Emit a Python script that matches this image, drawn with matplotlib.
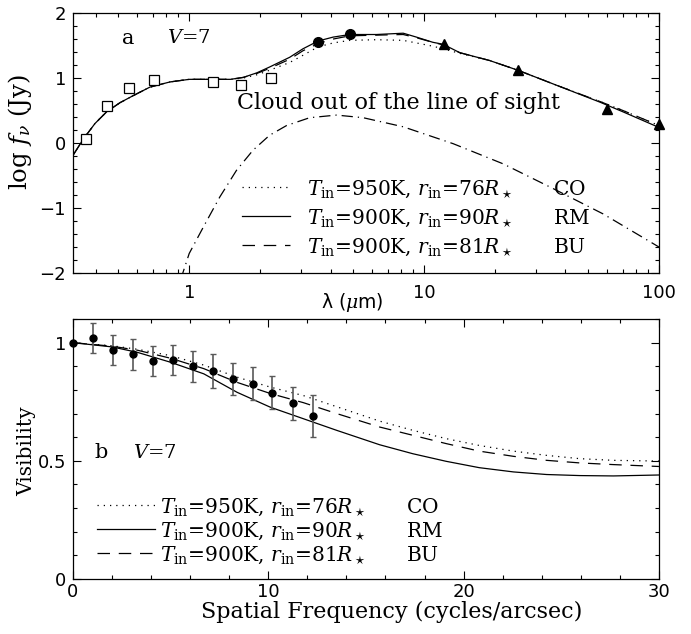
import matplotlib
matplotlib.use('Agg')
import matplotlib.pyplot as plt
from matplotlib.ticker import LogLocator, FixedLocator, MultipleLocator, NullFormatter, FuncFormatter

plt.rcParams['mathtext.fontset'] = 'dejavuserif'
plt.rcParams['font.family'] = 'DejaVu Serif'

# photometry (log flux in Jy)
wl_opt = [0.363, 0.445, 0.555, 0.706, 1.258, 1.66, 2.22]
f_opt = [0.06, 0.575, 0.85, 0.965, 0.945, 0.89, 1.0]
wl_ir = [3.54, 4.83]
f_ir = [1.55, 1.68]
wl_iras = [12.1, 25.2, 60.1, 100.0]
f_iras = [1.52, 1.13, 0.52, 0.30]

# model SEDs
wl_mod = [0.32, 0.354, 0.397, 0.445, 0.507, 0.578, 0.68, 0.828, 1.0, 1.31, 1.5, 1.7,
          1.94, 2.2, 2.68, 3.05, 3.54, 4.1, 4.83, 6.27, 8.15, 9.28, 10.9, 12.05, 14.2,
          19.0, 25.1, 36.6, 56.0, 70.3, 100.0]
sed_rm = [-0.19, 0.06, 0.30, 0.48, 0.62, 0.73, 0.86, 0.94, 0.98, 0.98, 0.98, 1.01,
          1.08, 1.17, 1.32, 1.45, 1.57, 1.63, 1.67, 1.67, 1.69, 1.63, 1.55, 1.52, 1.39,
          1.27, 1.12, 0.89, 0.63, 0.48, 0.24]
sed_co = [-0.19, 0.06, 0.30, 0.48, 0.62, 0.73, 0.86, 0.94, 0.98, 0.98, 0.98, 1.0,
          1.05, 1.12, 1.24, 1.35, 1.48, 1.54, 1.58, 1.59, 1.58, 1.54, 1.49, 1.45, 1.38,
          1.27, 1.12, 0.89, 0.64, 0.50, 0.27]
sed_bu = [-0.19, 0.06, 0.30, 0.48, 0.62, 0.73, 0.86, 0.94, 0.98, 0.98, 0.98, 1.01,
          1.07, 1.15, 1.29, 1.42, 1.53, 1.60, 1.65, 1.66, 1.67, 1.62, 1.55, 1.51, 1.39,
          1.27, 1.12, 0.89, 0.64, 0.50, 0.27]

# cloud emission
wl_cloud = [0.92, 1.0, 1.15, 1.35, 1.59, 1.87, 2.2, 2.6, 3.26, 4.24, 5.5, 8.15, 13.3,
            21.7, 35.4, 57.8, 100.0]
f_cloud = [-2.1, -1.70, -1.29, -0.83, -0.42, -0.11, 0.12, 0.27, 0.39, 0.43, 0.39, 0.25,
           -0.01, -0.32, -0.70, -1.09, -1.60]

# visibilities
freq = [0, 1.0, 2.03, 3.06, 4.08, 5.1, 6.13, 7.15, 8.18, 9.2, 10.2, 11.25, 12.27]
vis = [1.0, 1.02, 0.97, 0.95, 0.923, 0.927, 0.90, 0.88, 0.847, 0.827, 0.789, 0.744, 0.69]
vis_err = [0, 0.064, 0.064, 0.064, 0.063, 0.065, 0.065, 0.07, 0.069, 0.069, 0.069, 0.07, 0.09]

freq_mod = [0, 2.0, 3.3, 5.0, 6.7, 8.4, 10.1, 11.8, 13.5, 15.7, 17.4, 19.1, 20.8, 22.55,
            24.25, 25.96, 27.67, 30.0]
vis_rm = [1.0, 0.982, 0.959, 0.917, 0.868, 0.79, 0.727, 0.678, 0.629, 0.568, 0.53, 0.498,
          0.471, 0.453, 0.442, 0.4375, 0.436, 0.44]
vis_bu = [1.0, 0.985, 0.968, 0.934, 0.89, 0.832, 0.785, 0.746, 0.70, 0.643, 0.608, 0.573,
          0.541, 0.519, 0.502, 0.491, 0.484, 0.476]
vis_co = [1.0, 0.987, 0.972, 0.945, 0.905, 0.854, 0.812, 0.776, 0.729, 0.668, 0.629, 0.594,
          0.565, 0.541, 0.523, 0.509, 0.502, 0.499]

models = [('950K', '76', 'CO'), ('900K', '90', 'RM'), ('900K', '81', 'BU')]

def model_labels(gap):
    return [r'$T_{\rm in}$=%s, $r_{\rm in}$=%s$R_\star$' % (t, r) + ' ' * gap + name
            for t, r, name in models]

lw = 0.9
dot = (0, (1, 4))
dash = (0, (10, 7))

fig = plt.figure(figsize=(6.91, 6.34), dpi=100)
ax1 = fig.add_axes([0.1056, 0.5694, 0.848, 0.410])
ax2 = fig.add_axes([0.1056, 0.0868, 0.848, 0.410])

def style(ax):
    ax.tick_params(which='both', direction='in', top=True, right=True, width=0.8,
                   labelsize=13, pad=5)
    ax.tick_params(which='major', length=6)
    ax.tick_params(which='minor', length=3)
    for lab in ax.get_xticklabels() + ax.get_yticklabels():
        lab.set_family('DejaVu Sans')
    for s in ax.spines.values():
        s.set_linewidth(0.9)

# (a) spectral energy distribution
l1, = ax1.plot(wl_mod, sed_co, color='k', lw=lw, ls=dot)
l2, = ax1.plot(wl_mod, sed_rm, color='k', lw=lw)
l3, = ax1.plot(wl_mod, sed_bu, color='k', lw=lw, ls=dash)
ax1.plot(wl_cloud, f_cloud, color='k', lw=lw, ls=(0, (9, 4, 1, 4)))
ax1.plot(wl_opt, f_opt, 's', mfc='white', mec='k', mew=0.9, ms=6.5)
ax1.plot(wl_ir, f_ir, 'o', color='k', ms=7)
ax1.plot(wl_iras, f_iras, '^', color='k', ms=7, clip_on=False, zorder=5)

ax1.set_xscale('log')
ax1.set_xlim(0.32, 100)
ax1.set_ylim(-2, 2)
ax1.xaxis.set_major_locator(FixedLocator([1, 10, 100]))
ax1.xaxis.set_major_formatter(FuncFormatter(lambda v, p: '%g' % v))
ax1.xaxis.set_minor_locator(LogLocator(subs=range(2, 10)))
ax1.xaxis.set_minor_formatter(NullFormatter())
ax1.yaxis.set_major_locator(MultipleLocator(1))
ax1.yaxis.set_minor_locator(MultipleLocator(0.2))
style(ax1)
ax1.tick_params(axis='x', pad=8)

ax1.set_xlabel(r'λ ($\mu$m)', family='DejaVu Sans', fontsize=13.5)
ax1.xaxis.set_label_coords(0.476, -0.068)
ax1.set_ylabel(r'log $f_\nu$ (Jy)', fontsize=17.5)
ax1.yaxis.set_label_coords(-0.066, 0.54)

ax1.text(0.083, 0.904, 'a', transform=ax1.transAxes, fontsize=15, va='center')
ax1.text(0.160, 0.904, r'$V$=7', transform=ax1.transAxes, fontsize=14, va='center')
ax1.text(0.28, 0.654, 'Cloud out of the line of sight', transform=ax1.transAxes,
         fontsize=16, va='center')

ax1.legend([l1, l2, l3], model_labels(6), frameon=False, fontsize=14.5, loc='center left',
           bbox_to_anchor=(0.288, 0.2115), handlelength=2.4, handletextpad=0.85,
           labelspacing=0.35, borderpad=0, borderaxespad=0)

# (b) visibility
m1, = ax2.plot(freq_mod, vis_co, color='k', lw=lw, ls=dot)
m2, = ax2.plot(freq_mod, vis_rm, color='k', lw=lw)
m3, = ax2.plot(freq_mod, vis_bu, color='k', lw=lw, ls=dash)
ax2.errorbar(freq, vis, yerr=vis_err, fmt='o', color='k', ms=5, ecolor='0.35',
             elinewidth=1.2, capsize=2.5, capthick=1.0, clip_on=False, zorder=5)

ax2.set_xlim(0, 30)
ax2.set_ylim(0, 1.1)
ax2.xaxis.set_major_locator(MultipleLocator(10))
ax2.xaxis.set_minor_locator(MultipleLocator(2))
ax2.yaxis.set_major_locator(FixedLocator([0, 0.5, 1]))
ax2.yaxis.set_major_formatter(FuncFormatter(lambda v, p: '%g' % v))
ax2.yaxis.set_minor_locator(MultipleLocator(0.1))
style(ax2)
ax2.tick_params(axis='x', pad=3)

ax2.set_xlabel('Spatial Frequency (cycles/arcsec)', fontsize=16)
ax2.xaxis.set_label_coords(0.5435, -0.085)
ax2.set_ylabel('Visibility', fontsize=14.5)
ax2.yaxis.set_label_coords(-0.063, 0.49)

ax2.text(0.037, 0.485, 'b', transform=ax2.transAxes, fontsize=15, va='center')
ax2.text(0.102, 0.485, r'$V$=7', transform=ax2.transAxes, fontsize=14, va='center')

ax2.legend([m1, m2, m3], model_labels(6), frameon=False, fontsize=14.5, loc='center left',
           bbox_to_anchor=(0.041, 0.185), handlelength=2.9, handletextpad=0.25,
           labelspacing=0.1, borderpad=0, borderaxespad=0)

fig.savefig('out.png', dpi=100)
